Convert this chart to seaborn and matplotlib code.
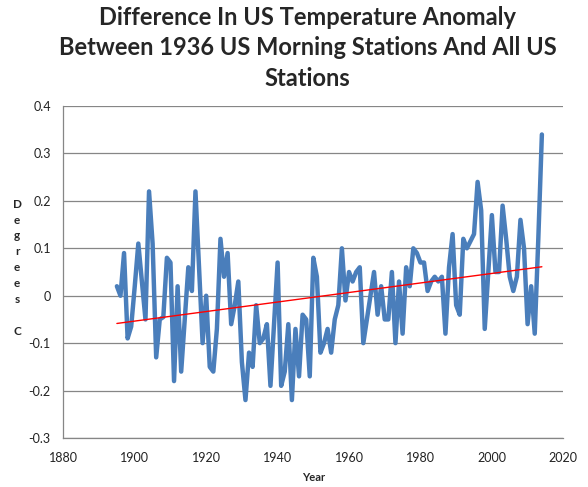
import numpy as np
import pandas as pd
import seaborn as sns
import matplotlib
matplotlib.use('Agg')
import matplotlib.pyplot as plt

# Difference between 1936 morning stations and all US stations
years = list(range(1895, 2015))
diff_1895_1922 = [0.02, 0.00, 0.09, -0.09, -0.065, 0.02, 0.11, 0.03, -0.05, 0.22,
                  0.11, -0.13, -0.05, -0.045, 0.08, 0.07, -0.18, 0.02, -0.16, -0.05,
                  0.06, 0.01, 0.22, 0.06, -0.10, 0.00, -0.15, -0.16]
diff_1923_1951 = [-0.07, 0.12, 0.04, 0.09, -0.06, -0.02, 0.03, -0.14, -0.22, -0.12,
                  -0.15, -0.02, -0.10, -0.09, -0.06, -0.19, -0.06, 0.07, -0.19, -0.16,
                  -0.06, -0.22, -0.07, -0.17, -0.04, -0.05, -0.17, 0.08, 0.04]
diff_1952_1981 = [-0.12, -0.10, -0.07, -0.12, -0.05, -0.02, 0.10, -0.01, 0.05, 0.03,
                  0.05, 0.06, -0.10, -0.05, 0.00, 0.05, -0.04, 0.02, -0.05, -0.05,
                  0.05, -0.10, 0.03, -0.08, 0.06, 0.02, 0.10, 0.09, 0.07, 0.07]
diff_1982_2014 = [0.01, 0.03, 0.04, 0.03, 0.04, -0.08, 0.06, 0.13, -0.02, -0.04,
                  0.12, 0.10, 0.115, 0.13, 0.24, 0.18, -0.07, 0.05, 0.17, 0.05,
                  0.05, 0.19, 0.12, 0.04, 0.01, 0.04, 0.16, 0.10, -0.06, 0.02,
                  -0.08, 0.12, 0.34]

x_ticks = [1880, 1900, 1920, 1940, 1960, 1980, 2000, 2020]
y_ticks = [-0.3, -0.2, -0.1, 0, 0.1, 0.2, 0.3, 0.4]

data = pd.DataFrame({
    'year': years,
    'diff': diff_1895_1922 + diff_1923_1951 + diff_1952_1981 + diff_1982_2014,
})

sns.set_style('white')
plt.rcParams['font.family'] = ['Lato', 'DejaVu Sans']

fig = plt.figure(figsize=(5.88, 4.87), dpi=100)
ax = fig.add_axes([0.1077, 0.1006, 0.8503, 0.6817])

grid_col = '#868686'
for v in y_ticks:
    ax.axhline(v, color=grid_col, lw=0.9, zorder=0)

sns.lineplot(data=data, x='year', y='diff', color='#4A7EBB', lw=3.2, ax=ax,
             zorder=3, solid_joinstyle='round')
sns.regplot(data=data, x='year', y='diff', scatter=False, ci=None, truncate=True,
            color='red', line_kws={'lw': 1.0, 'zorder': 4}, ax=ax)

ax.set_xlim(1880, 2020)
ax.set_ylim(-0.3, 0.4)
ax.set_xticks(x_ticks)
ax.set_yticks(y_ticks)
ax.set_yticklabels(['%g' % v for v in y_ticks])
ax.tick_params(axis='both', direction='out', length=5, width=0.9, color=grid_col,
               labelsize=9, labelcolor='#222222', pad=3)
ax.tick_params(axis='y', pad=4)
ax.tick_params(axis='x', pad=5)
for side in ['top', 'right']:
    ax.spines[side].set_visible(False)
for side in ['left', 'bottom']:
    ax.spines[side].set_color(grid_col)
    ax.spines[side].set_linewidth(0.9)

ax.set_xlabel('Year', fontsize=8, fontweight='bold', labelpad=6)
ax.set_ylabel('')
fig.text(0.029, 0.45, 'D\ne\ng\nr\ne\ne\ns\n \nC', fontsize=8.5, fontweight='bold',
         ha='center', va='center', linespacing=1.55)

fig.text(0.523, 0.988,
         'Difference In US Temperature Anomaly\nBetween 1936 US Morning Stations And All US\nStations',
         fontsize=17, fontweight='bold', ha='center', va='top', linespacing=1.4)

fig.savefig('out.png', dpi=100)
